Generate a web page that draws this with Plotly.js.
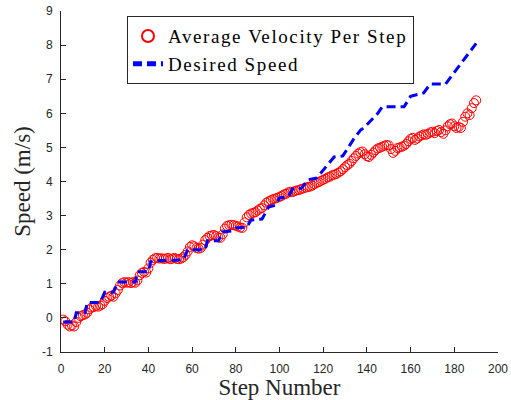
<!DOCTYPE html>
<html>
<head>
<meta charset="utf-8">
<script src="https://cdn.plot.ly/plotly-3.0.1.min.js"></script>
<style>
html,body{margin:0;padding:0;background:#fff;}
.legendtext{letter-spacing:1.6px;}
</style>
</head>
<body>
<div id="chart" style="width:511px;height:400px;"></div>
<script>
// Average velocity per step (m/s), steps 1..190
const avgVelocity = [
  -0.05,-0.10,-0.20,-0.25,-0.22,-0.25,-0.12,0.00,0.05,0.08,
  0.10,0.15,0.25,0.30,0.32,0.35,0.33,0.36,0.40,0.50,
  0.58,0.62,0.65,0.62,0.72,0.82,0.95,1.02,1.05,1.03,
  1.05,1.02,1.05,1.03,1.10,1.25,1.32,1.35,1.33,1.45,
  1.62,1.70,1.75,1.76,1.74,1.75,1.73,1.74,1.76,1.72,
  1.74,1.76,1.73,1.72,1.74,1.78,1.85,1.95,2.08,2.13,
  2.10,2.05,2.03,2.05,2.15,2.28,2.35,2.40,2.42,2.43,
  2.40,2.36,2.35,2.45,2.62,2.70,2.72,2.73,2.72,2.70,
  2.68,2.65,2.64,2.80,2.95,3.02,3.06,3.08,3.10,3.15,
  3.20,3.22,3.30,3.38,3.42,3.45,3.48,3.50,3.52,3.55,
  3.58,3.62,3.64,3.68,3.70,3.69,3.72,3.74,3.75,3.78,
  3.80,3.82,3.84,3.85,3.88,3.92,3.96,3.98,4.02,4.05,
  4.08,4.12,4.14,4.18,4.20,4.22,4.26,4.30,4.36,4.42,
  4.48,4.52,4.60,4.68,4.75,4.82,4.86,4.88,4.80,4.74,
  4.72,4.78,4.85,4.92,4.97,4.99,5.02,5.05,5.07,5.06,
  4.95,4.84,4.90,4.98,5.00,5.02,5.05,5.10,5.18,5.25,
  5.28,5.22,5.26,5.32,5.35,5.38,5.37,5.40,5.44,5.46,
  5.42,5.48,5.51,5.45,5.40,5.50,5.62,5.68,5.70,5.62,
  5.57,5.60,5.57,5.75,5.90,6.00,5.95,6.15,6.30,6.38
];
const steps = avgVelocity.map((_, i) => i + 1);

// Desired speed: vertices of the commanded profile
const desiredSteps = [1,6,7,11,12,18,20,24,26,34,35,40,41,45,56,58,66,67,72,74,78,80,85,87,92,95,98,100,104,106,110,113,117,122,125,129,134,137,139,145,147,157,160,166,169,176,190];
const desiredSpeed = [-0.12,-0.12,0.15,0.15,0.45,0.45,0.75,0.75,1.05,1.05,1.35,1.35,1.65,1.68,1.70,2.00,2.00,2.26,2.26,2.52,2.55,2.64,2.66,2.87,2.90,3.25,3.30,3.52,3.55,3.78,3.80,4.05,4.10,4.50,4.72,4.75,5.25,5.50,5.60,6.00,6.19,6.19,6.50,6.60,6.86,6.86,8.05];

const xTicks = [0,20,40,60,80,100,120,140,160,180,200];
const yTicks = [-1,0,1,2,3,4,5,6,7,8,9];

const traces = [
  {
    x: steps, y: avgVelocity, type: 'scatter', mode: 'markers',
    name: 'Average Velocity Per Step',
    marker: {symbol: 'circle-open', size: 9, color: '#ff0000', line: {width: 1, color: '#ff0000'}}
  },
  {
    x: desiredSteps, y: desiredSpeed, type: 'scatter', mode: 'lines',
    name: 'Desired Speed',
    line: {color: '#0000ff', width: 3, dash: '9px,5px'}
  }
];

const axisCommon = {
  showgrid: false, zeroline: false, showline: true, linecolor: '#262626', linewidth: 1,
  ticks: 'inside', ticklen: 5, tickcolor: '#262626', tickwidth: 1,
  tickfont: {family: 'Liberation Sans, Arial, sans-serif', size: 12, color: '#262626'},
  mirror: false
};

const serif = 'Liberation Serif, Times New Roman, serif';

const layout = {
  width: 511, height: 400,
  margin: {l: 61, r: 13, t: 11, b: 48},
  paper_bgcolor: '#ffffff', plot_bgcolor: '#ffffff',
  showlegend: true,
  xaxis: Object.assign({}, axisCommon, {
    range: [0, 200], tickvals: xTicks, ticktext: xTicks.map(String),
    ticklabelstandoff: 6,
    title: {text: 'Step Number', font: {family: serif, size: 23, color: '#262626'}, standoff: 0}
  }),
  yaxis: Object.assign({}, axisCommon, {
    range: [-1, 9], tickvals: yTicks, ticktext: yTicks.map(String),
    ticklabelstandoff: 5,
    title: {text: 'Speed (m/s)', font: {family: serif, size: 23, color: '#262626'}, standoff: 4}
  }),
  legend: {
    x: 0.151, y: 0.985, xanchor: 'left', yanchor: 'top',
    bgcolor: '#ffffff', bordercolor: '#262626', borderwidth: 1,
    font: {family: serif, size: 19, color: '#000000'},
    tracegroupgap: 0, itemsizing: 'constant'
  }
};

Plotly.newPlot('chart', traces, layout, {displayModeBar: false, staticPlot: true});
</script>
</body>
</html>
